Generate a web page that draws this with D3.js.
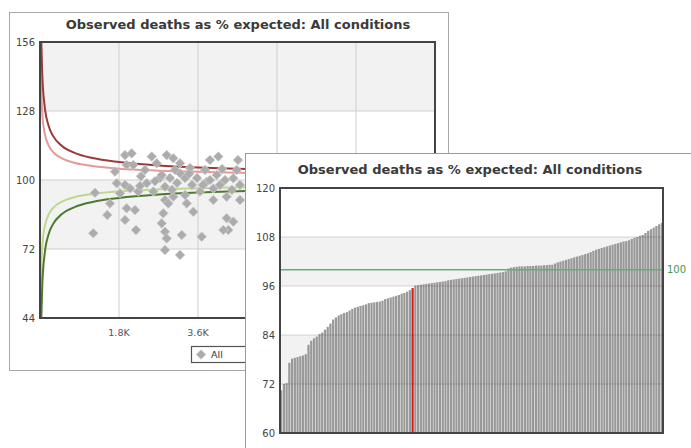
<!DOCTYPE html>
<html>
<head>
<meta charset="utf-8">
<script src="https://cdn.jsdelivr.net/npm/d3@7"></script>
<style>
  html, body { margin: 0; padding: 0; background: #fff; }
  svg { display: block; font-family: "DejaVu Sans", Verdana, sans-serif; }
</style>
</head>
<body>
<script>
/* ***************************************************************** */
/* DATA ************************************************************ */
var TITLE = "Observed deaths as % expected: All conditions";

// funnel plot: x = expected deaths, y = observed as % expected
var funnelYTicks = [44, 72, 100, 128, 156];
var funnelXTicks = [1800, 3600, 5400, 7200];
var funnelXLabels = ["1.8K", "3.6K", "5.4K", "7.2K"];

var limitE      = [30, 50, 100, 200, 300, 500, 800, 1200, 1800, 2700, 3600, 4500, 5400, 7200, 9000];
var upper998    = [156, 143.7, 130.9, 121.8, 117.8, 113.8, 110.9, 108.9, 107.3, 105.9, 105.1, 104.6, 104.2, 103.6, 103.3];
var lower998    = [44, 56.3, 69.1, 78.2, 82.2, 86.2, 89.1, 91.1, 92.7, 94.1, 94.9, 95.4, 95.8, 96.4, 96.7];
var limitE95    = [12, 20, 50, 100, 200, 300, 500, 800, 1200, 1800, 2700, 3600, 4500, 5400, 7200, 9000];
var upper95     = [156, 143.8, 127.7, 119.6, 113.9, 111.3, 108.8, 106.9, 105.7, 104.6, 103.8, 103.3, 102.9, 102.7, 102.3, 102.1];
var lower95     = [44, 56.2, 72.3, 80.4, 86.1, 88.7, 91.2, 93.1, 94.3, 95.4, 96.2, 96.7, 97.1, 97.3, 97.7, 97.9];

var trustExpected = [1253, 1214, 1533, 1748, 1709, 1937, 2089, 1975, 2126, 1937, 1823, 1975, 2165, 1937, 2187,
  2051, 2240, 2279, 2431, 2545, 2659, 2582, 2887, 3037, 2809, 2773, 2848, 2887, 2848, 3190,
  3229, 3037, 2848, 2923, 3190, 3190, 3343, 3493, 3684, 3646, 3798, 3873, 4063, 3949, 4026,
  4215, 4254, 4254, 4291, 4404, 4404, 4482, 2962, 3122, 3304, 3463, 3577, 3714, 3873, 4100,
  4373, 4557, 3760, 3418, 3076, 2734, 2392, 3008, 3304, 4557, 4511, 1595, 2773, 2848, 4177,
  2300, 2620, 3400, 3950, 4150];
var trustPercent = [94.8, 78.4, 85.8, 98.7, 103.4, 110.1, 110.8, 106.1, 106.1, 98.0, 94.6, 88.5, 87.8, 83.8, 79.7,
  96.6, 95.3, 97.6, 98.7, 109.5, 106.8, 95.3, 110.1, 108.8, 86.5, 82.4, 79.0, 76.3, 71.6, 69.6,
  77.7, 93.2, 91.9, 90.5, 106.8, 102.7, 90.5, 87.1, 77.0, 95.3, 99.3, 108.1, 109.5, 91.9, 102.0,
  100.0, 93.2, 84.5, 79.7, 83.1, 100.7, 104.1, 100.8, 98.8, 100.8, 98.0, 100.8, 98.0, 100.0, 98.0,
  96.0, 98.0, 104.1, 104.9, 104.1, 100.8, 104.1, 96.0, 93.9, 91.9, 108.1, 90.5, 102.0, 97.3, 79.7,
  101.5, 99.5, 102.5, 96.5, 104.5];

// ranked bar chart
var barYTicks = [60, 72, 84, 96, 108, 120];
var rankedValues = [70.5, 72.0, 72.2, 77.2, 78.2, 78.4, 78.6, 78.8, 79.0, 79.3,
  81.6, 82.6, 83.2, 83.6, 84.2, 84.6, 85.3, 86.0, 86.8, 87.8,
  88.3, 88.8, 89.1, 89.4, 89.6, 90.0, 90.4, 90.7, 90.9, 91.1,
  91.3, 91.5, 91.8, 91.9, 92.0, 92.1, 92.2, 92.4, 92.8, 93.0,
  93.2, 93.4, 93.6, 93.8, 94.1, 94.3, 94.6, 95.0, 95.5, 96.1,
  96.2, 96.3, 96.4, 96.5, 96.6, 96.7, 96.8, 96.9, 97.0, 97.1,
  97.2, 97.4, 97.5, 97.6, 97.7, 97.8, 97.9, 98.0, 98.1, 98.2,
  98.3, 98.4, 98.5, 98.6, 98.7, 98.8, 98.9, 99.0, 99.1, 99.2,
  99.3, 99.4, 99.6, 100.3, 100.5, 100.6, 100.7, 100.8, 100.8, 100.8,
  100.9, 100.9, 100.9, 101.0, 101.0, 101.0, 101.1, 101.1, 101.2, 101.2,
  101.5, 101.8, 102.0, 102.2, 102.4, 102.6, 102.8, 103.0, 103.2, 103.4,
  103.6, 103.8, 104.0, 104.3, 104.6, 104.9, 105.1, 105.3, 105.5, 105.7,
  105.9, 106.1, 106.3, 106.5, 106.7, 106.9, 107.0, 107.2, 107.5, 107.8,
  108.0, 108.3, 108.5, 109.0, 109.5, 109.9, 110.3, 110.7, 111.1, 111.5];
var highlightIndex = 48;
var targetValue = 100;

var FRONT_X = 245, FRONT_Y = 153;   // where the bar panel covers the funnel panel

/* ***************************************************************** */
/* SVG INIT ******************************************************** */
var svg = d3.select("body").append("svg")
    .attr("width", 691)
    .attr("height", 448);

/* ***************************************************************** */
/* BACK PANEL: FUNNEL PLOT ***************************************** */
var back = svg.append("g").attr("class", "funnel");

back.append("rect")
    .attr("x", 9.5).attr("y", 12.5)
    .attr("width", 439).attr("height", 358)
    .style("fill", "#fff").style("stroke", "#a8a8a8");

back.append("text")
    .attr("x", 238).attr("y", 29)
    .attr("text-anchor", "middle")
    .style("font-size", "13px").style("font-weight", "bold").style("fill", "#3a3a3a")
    .text(TITLE);

var fx = d3.scaleLinear().domain([0, 9000]).range([40, 435]);
var fy = d3.scaleLinear().domain([44, 156]).range([318, 42]);

// alternating bands: 72-100 and 128-156 grey
for (var i = 0; i < funnelYTicks.length - 1; i++) {
  if (i % 2 === 0) continue;
  back.append("rect")
      .attr("x", fx(0)).attr("y", fy(funnelYTicks[i + 1]))
      .attr("width", fx(9000) - fx(0))
      .attr("height", fy(funnelYTicks[i]) - fy(funnelYTicks[i + 1]))
      .style("fill", "#f2f2f2");
}

back.selectAll("line.hgrid").data(funnelYTicks.slice(1, -1)).enter().append("line")
    .attr("x1", fx(0)).attr("x2", fx(9000))
    .attr("y1", function(d){ return fy(d); }).attr("y2", function(d){ return fy(d); })
    .style("stroke", "#cfcfcf");
back.selectAll("line.vgrid").data(funnelXTicks).enter().append("line")
    .attr("x1", function(d){ return fx(d); }).attr("x2", function(d){ return fx(d); })
    .attr("y1", fy(156)).attr("y2", fy(44))
    .style("stroke", "#cfcfcf");

// control limits
var limLine = function(xs, ys){
  return d3.line().curve(d3.curveMonotoneX)
    .x(function(d, k){ return fx(xs[k]); })
    .y(function(d){ return fy(d); })(ys);
};
back.append("path").attr("d", limLine(limitE95, upper95))
    .style("fill", "none").style("stroke", "#e49a9a").style("stroke-width", 2);
back.append("path").attr("d", limLine(limitE, upper998))
    .style("fill", "none").style("stroke", "#9c3a3a").style("stroke-width", 2);
back.append("path").attr("d", limLine(limitE95, lower95))
    .style("fill", "none").style("stroke", "#bcd98f").style("stroke-width", 2);
back.append("path").attr("d", limLine(limitE, lower998))
    .style("fill", "none").style("stroke", "#4d7a2e").style("stroke-width", 2);

// trusts
var diamond = d3.symbol().type(d3.symbolDiamond2).size(58);
back.selectAll("path.pt").data(trustExpected).enter().append("path")
    .attr("d", diamond)
    .attr("transform", function(d, k){ return "translate(" + fx(d) + "," + fy(trustPercent[k]) + ")"; })
    .style("fill", "#acacac").style("stroke", "#c8c8c8").style("stroke-width", 0.8);

// frame
back.append("rect")
    .attr("x", fx(0)).attr("y", fy(156))
    .attr("width", fx(9000) - fx(0)).attr("height", fy(44) - fy(156))
    .style("fill", "none").style("stroke", "#444").style("stroke-width", 2);

back.selectAll("text.ytick").data(funnelYTicks).enter().append("text")
    .attr("x", 35).attr("y", function(d){ return fy(d) + 3.5; })
    .attr("text-anchor", "end")
    .style("font-size", "10px").style("fill", "#444")
    .text(function(d){ return d; });
// only the labels left of the front panel are visible
back.selectAll("text.xtick").data(funnelXTicks.filter(function(d){ return fx(d) + 15 < FRONT_X; }))
  .enter().append("text")
    .attr("x", function(d){ return fx(d); }).attr("y", 336)
    .attr("text-anchor", "middle")
    .style("font-size", "9.5px").style("fill", "#555")
    .text(function(d, k){ return funnelXLabels[k]; });

// legend
back.append("rect")
    .attr("x", 191.5).attr("y", 346.5).attr("width", 80).attr("height", 16)
    .style("fill", "#fff").style("stroke", "#555").style("stroke-width", 1.2);
back.append("path").attr("d", diamond)
    .attr("transform", "translate(201,354.5)")
    .style("fill", "#acacac").style("stroke", "#c8c8c8").style("stroke-width", 0.8);
back.append("text").attr("x", 211).attr("y", 358)
    .style("font-size", "9.5px").style("fill", "#333").text("All");

/* ***************************************************************** */
/* FRONT PANEL: RANKED BARS **************************************** */
var front = svg.append("g").attr("class", "ranked");

front.append("rect")
    .attr("x", FRONT_X + 0.5).attr("y", FRONT_Y + 0.5)
    .attr("width", 460).attr("height", 310)
    .style("fill", "#fff").style("stroke", "#9a9a9a");

front.append("text")
    .attr("x", 470).attr("y", 174)
    .attr("text-anchor", "middle")
    .style("font-size", "13px").style("font-weight", "bold").style("fill", "#3a3a3a")
    .text(TITLE);

var bx = d3.scaleBand().domain(d3.range(rankedValues.length)).range([280, 663]).paddingInner(0.18);
var by = d3.scaleLinear().domain([60, 120]).range([433, 188]);

for (var j = 0; j < barYTicks.length - 1; j++) {
  if (j % 2 === 0) continue;
  front.append("rect")
      .attr("x", 280).attr("y", by(barYTicks[j + 1]))
      .attr("width", 383)
      .attr("height", by(barYTicks[j]) - by(barYTicks[j + 1]))
      .style("fill", "#f2f2f2");
}

front.selectAll("rect.bar").data(rankedValues).enter().append("rect")
    .attr("class", "bar")
    .attr("x", function(d, k){ return bx(k); })
    .attr("y", function(d){ return by(d); })
    .attr("width", bx.bandwidth())
    .attr("height", function(d){ return by(60) - by(d); })
    .style("fill", function(d, k){ return k === highlightIndex ? "#e01818" : "#999"; });

front.selectAll("line.hgrid").data(barYTicks.slice(1, -1)).enter().append("line")
    .attr("x1", 280).attr("x2", 663)
    .attr("y1", function(d){ return by(d); }).attr("y2", function(d){ return by(d); })
    .style("stroke", "#000").style("stroke-opacity", 0.15);

front.append("line")
    .attr("x1", 280).attr("x2", 663)
    .attr("y1", by(targetValue)).attr("y2", by(targetValue))
    .style("stroke", "#5faf78").style("stroke-width", 1.5);
front.append("text")
    .attr("x", 667).attr("y", by(targetValue) + 3.5)
    .style("font-size", "10px").style("fill", "#3d9a55")
    .text(targetValue);

front.append("rect")
    .attr("x", 280).attr("y", 188)
    .attr("width", 383).attr("height", 245)
    .style("fill", "none").style("stroke", "#444").style("stroke-width", 2);

front.selectAll("text.ytick").data(barYTicks).enter().append("text")
    .attr("x", 275).attr("y", function(d){ return by(d) + 3.5; })
    .attr("text-anchor", "end")
    .style("font-size", "10px").style("fill", "#444")
    .text(function(d){ return d; });
</script>
</body>
</html>
